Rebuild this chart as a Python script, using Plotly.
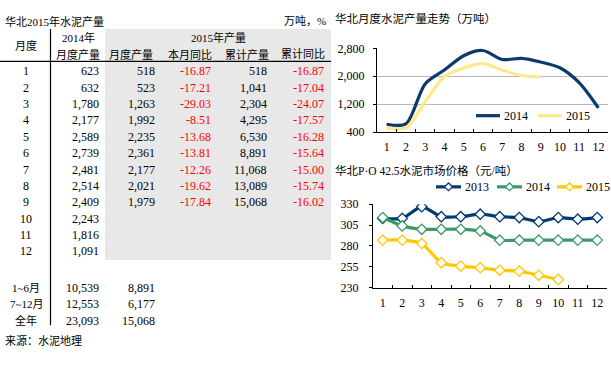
import plotly.graph_objects as go

W, H = 611, 366

months = [str(i) for i in range(1, 13)]
prod_2014 = [623, 632, 1780, 2177, 2589, 2739, 2481, 2514, 2409, 2243, 1816, 1091]
prod_2015 = [518, 523, 1263, 1992, 2235, 2361, 2177, 2021, 1979]
mom_pct_2015 = [-16.87, -17.21, -29.03, -8.51, -13.68, -13.81, -12.26, -19.62, -17.84]
cum_2015 = [518, 1041, 2304, 4295, 6530, 8891, 11068, 13089, 15068]
cum_pct_2015 = [-16.87, -17.04, -24.07, -17.57, -16.28, -15.64, -15.00, -15.74, -16.02]

sum_labels = ["1~6月", "7~12月", "全年"]
sum_2014 = [10539, 12553, 23093]
sum_2015 = [8891, 6177, 15068]

price_2013 = [313, 313, 327, 315, 315, 318, 315, 314, 309, 314, 312, 314]
price_2014 = [314, 304, 300, 300, 300, 298, 287, 287, 287, 287, 287, 287]
price_2015 = [287, 287, 283, 260, 256, 254, 251, 250, 245, 240]

FONT = "Liberation Serif, Noto Sans CJK SC, serif"
NAVY = "#0b3a6b"
PALE = "#ffe98a"
C13 = "#003a70"
C14 = "#3a9a68"
C15 = "#ffc800"
RED = "#ff0000"


def px(x):
    return x / W


def py(y):
    return 1 - y / H


fig = go.Figure()

# ---- top chart: monthly production
fig.add_trace(go.Scatter(x=months, y=prod_2014, name="2014", mode="lines",
                         line=dict(color=NAVY, width=3.2, shape="spline", smoothing=0.8),
                         xaxis="x", yaxis="y", showlegend=False))
fig.add_trace(go.Scatter(x=months[:len(prod_2015)], y=prod_2015, name="2015", mode="lines",
                         line=dict(color=PALE, width=3.2, shape="spline", smoothing=0.8),
                         xaxis="x", yaxis="y", showlegend=False))

# ---- bottom chart: prices
price_series = [("2013", price_2013, C13), ("2014", price_2014, C14), ("2015", price_2015, C15)]
for name, vals, col in price_series:
    fig.add_trace(go.Scatter(x=months[:len(vals)], y=vals, name=name, mode="lines+markers",
                             line=dict(color=col, width=3.2, shape="spline", smoothing=0.6),
                             marker=dict(symbol="diamond", size=8, color="white",
                                         line=dict(color=col, width=1.3)),
                             xaxis="x2", yaxis="y2", showlegend=False))

axis_font = dict(family=FONT, size=12, color="black")
CJK = 11

# ---- table
ann = []


def add(x, y, text, anchor="center", size=12, color="black"):
    ann.append(dict(x=px(x), y=py(y), text=text, xanchor=anchor, yanchor="middle",
                    font=dict(family=FONT, size=size, color=color),
                    xref="paper", yref="paper", showarrow=False))


add(3, 15, "华北2015年水泥产量", "left", CJK)
add(328, 15, "万吨，%", "right", CJK)
add(26, 40, "月度", "center", CJK)
add(78, 32, "2014年", "center", CJK)
add(78, 49, "月度产量", "center", CJK)
add(218, 32, "2015年产量", "center", CJK)
for cx, t in [(131, "月度产量"), (190, "本月同比"), (247, "累计产量"), (303, "累计同比")]:
    add(cx, 49, t, "center", CJK)

for i, m in enumerate(months):
    yy = 67 + 17 * i
    add(26, yy, m)
    add(101, yy, f"{prod_2014[i]:,}", "right")
    if i < len(prod_2015):
        add(157, yy, f"{prod_2015[i]:,}", "right")
        add(213, yy, f"{mom_pct_2015[i]:.2f}", "right", color=RED)
        add(269, yy, f"{cum_2015[i]:,}", "right")
        add(326, yy, f"{cum_pct_2015[i]:.2f}", "right", color=RED)

for j, lab in enumerate(sum_labels):
    yy = 292 + 17 * j
    add(26, yy, lab, "center", CJK)
    add(101, yy, f"{sum_2014[j]:,}", "right")
    add(157, yy, f"{sum_2015[j]:,}", "right")

add(3, 347, "来源：水泥地理", "left", CJK)

# chart titles
add(333, 12, "华北月度水泥产量走势（万吨）", "left", 11.5)
add(333, 170, "华北P·O 42.5水泥市场价格（元/吨）", "left", 11.5)

shapes = [
    dict(type="rect", xref="paper", yref="paper", x0=px(105), x1=px(331), y0=py(263), y1=py(23),
         fillcolor="#e8e8e8", line=dict(width=0), layer="below"),
    dict(type="line", xref="paper", yref="paper", x0=px(50.5), x1=px(50.5), y0=py(23), y1=py(331),
         line=dict(color="black", width=1.2)),
    dict(type="line", xref="paper", yref="paper", x0=px(0), x1=px(331), y0=py(56.5), y1=py(56.5),
         line=dict(color="black", width=1.2)),
]

# ---- legends (key line + label)
top_legend = [("2014", NAVY, 476), ("2015", PALE, 538)]
for name, col, x0 in top_legend:
    shapes.append(dict(type="line", xref="paper", yref="paper", x0=px(x0), x1=px(x0 + 24),
                       y0=py(113), y1=py(113), line=dict(color=col, width=3.2)))
    add(x0 + 26, 113, name, "left")

bottom_legend_x = [436, 497, 557]
for (name, vals, col), x0 in zip(price_series, bottom_legend_x):
    shapes.append(dict(type="line", xref="paper", yref="paper", x0=px(x0), x1=px(x0 + 25),
                       y0=py(187), y1=py(187), line=dict(color=col, width=3.2)))
    cx, cy = x0 + 12.5, 187
    path = (f"M {px(cx - 4)} {py(cy)} L {px(cx)} {py(cy - 4)} L {px(cx + 4)} {py(cy)} "
            f"L {px(cx)} {py(cy + 4)} Z")
    shapes.append(dict(type="path", xref="paper", yref="paper", path=path,
                       fillcolor="white", line=dict(color=col, width=1.3)))
    add(x0 + 27, 187, name, "left")

fig.update_layout(
    width=W, height=H, autosize=False,
    margin=dict(l=0, r=0, t=0, b=0),
    paper_bgcolor="white", plot_bgcolor="white",
    font=dict(family=FONT, size=12, color="black"),
    annotations=ann, shapes=shapes,
    showlegend=False,
    xaxis=dict(domain=[px(377), px(608)], type="category", range=[-0.5, 11.5],
               showline=True, linecolor="black", linewidth=1, ticks="inside", ticklen=3,
               tickson="boundaries", tickcolor="black", showgrid=False, tickfont=axis_font,
               tickangle=0, ticklabelstandoff=4, anchor="y"),
    yaxis=dict(domain=[py(130), py(43)], range=[400, 2800], tickvals=[400, 1200, 2000, 2800],
               tickformat=",", showline=True, linecolor="black", linewidth=1, ticks="outside",
               ticklen=3, tickcolor="black", showgrid=True, gridcolor="#b8b8b8", gridwidth=1,
               tickfont=axis_font, zeroline=False, anchor="x", ticklabelstandoff=6),
    xaxis2=dict(domain=[px(373), px(607)], type="category", range=[-0.5, 11.5],
                showline=True, linecolor="black", linewidth=1, ticks="inside", ticklen=3,
                tickson="boundaries", tickcolor="black", showgrid=False, tickfont=axis_font,
                tickangle=0, ticklabelstandoff=4, anchor="y2"),
    yaxis2=dict(domain=[py(292), py(205)], range=[230, 330], tickvals=[230, 255, 280, 305, 330],
                showline=True, linecolor="black", linewidth=1, ticks="outside", ticklen=3,
                tickcolor="black", showgrid=False, tickfont=axis_font, zeroline=False,
                anchor="x2", ticklabelstandoff=8),
)

fig.write_html(
    "out.html",
    config={"displayModeBar": False, "staticPlot": True},
    post_script="document.body.style.margin='0';document.body.style.padding='0';"
                "document.body.style.overflow='hidden';",
)
